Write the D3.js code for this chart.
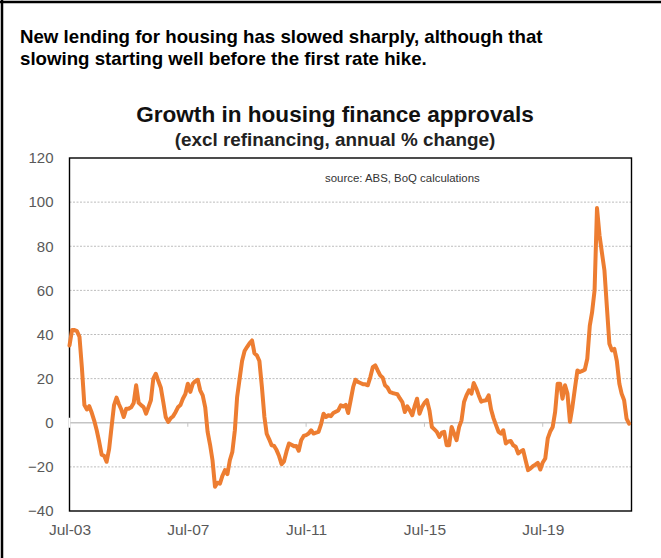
<!DOCTYPE html>
<html><head><meta charset="utf-8">
<script src="https://cdn.jsdelivr.net/npm/d3@7"></script>
<style>body{margin:0;background:#fff}svg{display:block}</style>
</head><body>
<svg id="c" width="661" height="558"></svg>
<script>
// ---- data ----
const startMonth = "2003-07";
const growth = [
 35,42,42,41.5,39,25,8,6,7.5,4.5,1,-3.4,-8.5,-14.5,-15,-17.7,-12,-2,8,11.4,8.5,6,2.6,6.4,
 6.4,7,9,17,9,8,7.1,4.1,7,10.2,20,22.2,19,16,9.4,2.6,0.4,2,3,4.9,7,8,10.9,13,
 17.7,14,17.7,18.8,19.5,14.7,12.4,7,-4,-10,-17,-29,-27.2,-27.6,-24,-21.5,-23.3,-17,-13.2,-3.4,11.7,20,
 28,32.5,34.3,36,37.3,31.5,30.5,28,16.2,2.6,-5,-7.5,-10.2,-10.5,-12.4,-15.1,-18.8,-17.5,-13,-9.4,
 -10,-10.6,-10.5,-12.7,-7.9,-6,-5.6,-4.9,-3.4,-4.9,-4.5,-4.1,-0.7,4.1,2.6,3.4,3,4.4,5,5.6,
 7.9,7.4,8.1,4.4,10.2,16.2,19.5,18.5,18,17.5,17.4,17,20.7,25.2,26,23.7,21.5,20.4,17,16,
 13.9,13.5,13.2,12.9,11,9.4,4.9,7.4,5.6,3.4,7.4,10.9,4.1,7.1,9,10.2,5.6,-1.9,-3,-4.1,
 -6.4,-4.5,-4.1,-10.2,-10.2,-1.9,-4.9,-7.9,-2,1.1,9.4,12.4,14.7,13.2,18,15.5,12.5,9.6,10,10.2,
 12.4,6,2,-1.1,-4.1,-4.9,-3.4,-9.4,-8.5,-8.3,-10.2,-10.9,-13.9,-13,-12.4,-17,-21.5,-20.7,-19.7,-19,
 -18.2,-21.2,-18,-16.2,-7.1,-4,-1.9,4.9,17.7,17.7,10.9,17,13.2,0.4,7.1,15.5,23.7,23,23.5,24,
 29,44,50,60,97.3,85,77,69,52,35.8,32.8,33.5,28,17.7,13.2,10.2,1.9,-0.4
];
const yTicks = [-40,-20,0,20,40,60,80,100,120];
const xTickDates = ["2003-07","2007-07","2011-07","2015-07","2019-07"];
const xTickLabels = ["Jul-03","Jul-07","Jul-11","Jul-15","Jul-19"];
const xDomain = ["2003-07","2022-07"];
const headingLines = ["New lending for housing has slowed sharply, although that",
                      "slowing starting well before the first rate hike."];
const chartTitle = "Growth in housing finance approvals";
const chartSubtitle = "(excl refinancing, annual % change)";
const sourceNote = "source:  ABS, BoQ calculations";

// ---- drawing ----
const parse = d3.timeParse("%Y-%m");
const t0 = parse(startMonth);
const series = growth.map((v, i) => ({date: d3.timeMonth.offset(t0, i), value: v}));

const svg = d3.select("#c");
const font = "Arial, 'Liberation Sans', Helvetica, sans-serif";
const L = 69.5, R = 631.5, T = 158, B = 511;

const x = d3.scaleTime().domain(xDomain.map(parse)).range([L, R]);
const y = d3.scaleLinear().domain([-40, 120]).range([B, T]);

// outer frame (top & left)
svg.append("line").attr("x1",0).attr("x2",661).attr("y1",2).attr("y2",2).attr("stroke","#000").attr("stroke-width",2.5);
svg.append("line").attr("x1",2).attr("x2",2).attr("y1",0).attr("y2",558).attr("stroke","#000").attr("stroke-width",2.5);

function fitText(sel, target){
  const w = sel.node().getComputedTextLength();
  const fs = parseFloat(sel.attr("font-size"));
  sel.attr("font-size", fs * target / w);
}

const h1 = svg.append("text").attr("x",20).attr("y",43).attr("font-family",font).attr("font-weight","bold")
  .attr("font-size",16).attr("fill","#000").text(headingLines[0]);
fitText(h1, 523);
svg.append("text").attr("x",20).attr("y",64.5).attr("font-family",font).attr("font-weight","bold")
  .attr("font-size",h1.attr("font-size")).attr("fill","#000").text(headingLines[1]);

const tt = svg.append("text").attr("x",335).attr("y",122).attr("text-anchor","middle").attr("font-family",font)
  .attr("font-weight","bold").attr("font-size",20).attr("fill","#111").text(chartTitle);
fitText(tt, 398);
const st = svg.append("text").attr("x",335).attr("y",146).attr("text-anchor","middle").attr("font-family",font)
  .attr("font-weight","bold").attr("font-size",16).attr("fill","#222").text(chartSubtitle);
fitText(st, 321);

// gridlines
svg.append("g").selectAll("line").data(yTicks.filter(d => d !== -40 && d !== 120 && d !== 0)).join("line")
  .attr("x1",L).attr("x2",R).attr("y1",d=>y(d)).attr("y2",d=>y(d))
  .attr("stroke","#bdbdbd").attr("stroke-width",1).attr("stroke-dasharray","2,1.5");

// zero axis line with ticks
svg.append("line").attr("x1",L).attr("x2",R).attr("y1",y(0)).attr("y2",y(0))
  .attr("stroke","#c4c4c4").attr("stroke-width",1.6);
svg.append("g").selectAll("line").data(xTickDates.slice(1)).join("line")
  .attr("x1",d=>x(parse(d))).attr("x2",d=>x(parse(d))).attr("y1",y(0)).attr("y2",y(0)+4)
  .attr("stroke","#c4c4c4").attr("stroke-width",1);

// source note
const sn = svg.append("text").attr("x",325).attr("y",181.5).attr("font-family",font)
  .attr("font-size",10).attr("fill","#333").text(sourceNote);
fitText(sn, 155);

// plot frame
svg.append("rect").attr("x",L).attr("y",T).attr("width",R-L).attr("height",B-T)
  .attr("fill","none").attr("stroke","#000").attr("stroke-width",1.4);
// small gap on left axis at zero (as in reference)
svg.append("line").attr("x1",L).attr("x2",L).attr("y1",y(0)-5).attr("y2",y(0)+5)
  .attr("stroke","#fff").attr("stroke-width",2);

// y axis labels
const ya = svg.append("g").attr("transform",`translate(${L},0)`)
  .call(d3.axisLeft(y).tickValues(yTicks).tickSize(0).tickPadding(16).tickFormat(d3.format("d")));
ya.select(".domain").remove();
ya.selectAll("text").attr("font-family",font).attr("font-size",15).attr("fill","#595959");

// x axis labels
const xa = svg.append("g").attr("transform",`translate(0,${B})`)
  .call(d3.axisBottom(x).tickValues(xTickDates.map(parse)).tickSize(0).tickPadding(13)
    .tickFormat((d,i) => xTickLabels[i]));
xa.select(".domain").remove();
xa.selectAll("text").attr("font-family",font).attr("font-size",15.5).attr("fill","#595959");

// line
svg.append("path").datum(series)
  .attr("fill","none").attr("stroke","#ED7D31").attr("stroke-width",4)
  .attr("stroke-linejoin","round").attr("stroke-linecap","round")
  .attr("d", d3.line().x(d => x(d.date)).y(d => y(d.value)));
</script>
</body></html>
